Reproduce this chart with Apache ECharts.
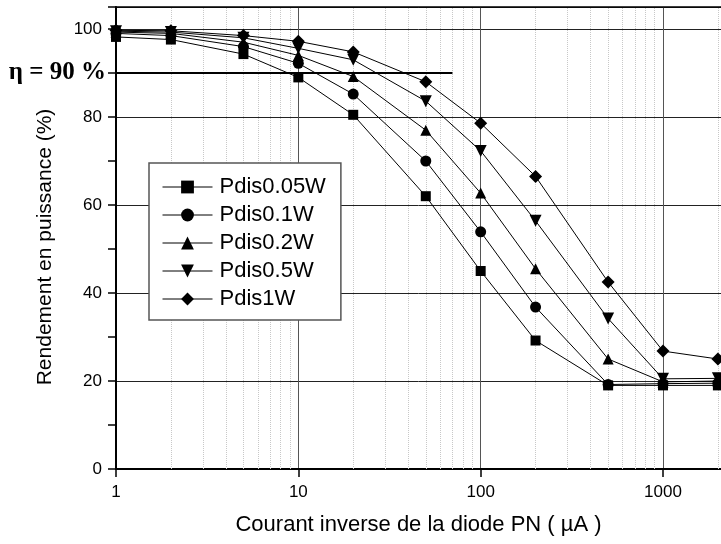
<!DOCTYPE html>
<html>
<head>
<meta charset="utf-8">
<script src="https://cdn.jsdelivr.net/npm/echarts@6/dist/echarts.min.js"></script>
<style>html,body{margin:0;padding:0;background:#fff}#c{width:721px;height:544px}</style>
</head>
<body>
<div id="c"></div>
<script>
var currents = [1, 2, 5, 10, 20, 50, 100, 200, 500, 1000, 2000];
var seriesNames = ['Pdis0.05W', 'Pdis0.1W', 'Pdis0.2W', 'Pdis0.5W', 'Pdis1W'];
var p005 = [98.2, 97.6, 94.3, 89.0, 80.5, 62.0, 45.0, 29.2, 19.0, 19.0, 19.0];
var p01  = [99.0, 98.5, 96.0, 92.2, 85.2, 70.0, 53.9, 36.8, 19.2, 19.4, 19.5];
var p02  = [99.3, 99.0, 97.0, 94.0, 89.2, 77.0, 62.7, 45.5, 25.0, 19.8, 20.0];
var p05  = [99.5, 99.3, 98.0, 95.6, 93.0, 83.6, 72.3, 56.4, 34.2, 20.5, 20.6];
var p1   = [99.7, 99.6, 98.5, 97.2, 94.8, 88.0, 78.6, 66.5, 42.5, 26.8, 25.0];
var xTickLabels = [1, 10, 100, 1000];
var yTicks = [0, 20, 40, 60, 80, 100];
var minorX = [2,3,4,5,6,7,8,9,20,30,40,50,60,70,80,90,200,300,400,500,600,700,800,900,2000];
var etaLevel = 90, etaEnd = 70;

var allVals = [p005, p01, p02, p05, p1];
var symbols = ['rect', 'circle', 'triangle', 'path://M0,0 L10,0 L5,9 Z', 'diamond'];
var sizes = [10, 11, 11, 12, 13];

function pairs(v) { return currents.map(function (x, i) { return [x, v[i]]; }); }

var series = [{
  name: '_grid', type: 'line', data: [], silent: true, z: 1,
  markLine: {
    silent: true, symbol: 'none', animation: false, z: 1,
    label: { show: false },
    lineStyle: { color: '#c8c8c8', type: 'dotted', width: 1 },
    data: minorX.map(function (v) { return [{ coord: [v, 0] }, { coord: [v, 105] }]; })
      .concat(minorX.map(function (v) {
        return [{ coord: [v, 0], lineStyle: { color: '#000', type: 'solid', width: 1 } },
                { coord: [v, -1.4], lineStyle: { color: '#000', type: 'solid', width: 1 } }];
      }))
  }
}];
allVals.forEach(function (v, i) {
  var s = {
    name: seriesNames[i], type: 'line', data: pairs(v), z: 3,
    symbol: symbols[i], symbolSize: sizes[i], showAllSymbol: true,
    itemStyle: { color: '#000' }, lineStyle: { color: '#000', width: 1 },
    animation: false
  };
  if (i === 0) {
    s.markLine = {
      silent: true, symbol: 'none', animation: false, z: 2,
      lineStyle: { color: '#000', type: 'solid', width: 2 },
      label: {
        show: true, position: 'start', formatter: '\u03b7 = 90 %', distance: 10,
        fontFamily: 'Liberation Serif', fontWeight: 'bold', fontSize: 25, color: '#000'
      },
      data: [[{ coord: [1, etaLevel] }, { coord: [etaEnd, etaLevel] }]]
    };
  }
  series.push(s);
});

var chart = echarts.init(document.getElementById('c'));
chart.setOption({
  backgroundColor: '#fff',
  animation: false,
  textStyle: { fontFamily: 'Liberation Sans' },
  grid: { left: 116, top: 7, bottom: 75, right: 0, show: false, containLabel: false },
  legend: {
    data: seriesNames, orient: 'vertical', left: 149, top: 163,
    padding: [13, 15, 10, 13], itemGap: 6, itemWidth: 50, itemHeight: 16,
    backgroundColor: '#fff', borderColor: '#555', borderWidth: 1.5, borderRadius: 0,
    textStyle: { fontSize: 22, color: '#000', fontFamily: 'Liberation Sans', lineHeight: 22, padding: [0, 0, 0, 2] },
    itemStyle: { color: '#000' }, lineStyle: { color: '#000', width: 1 }
  },
  xAxis: [{
    type: 'log', logBase: 10, min: 1, max: 2080,
    name: 'Courant inverse de la diode PN ( \u00b5A )', nameLocation: 'middle', nameGap: 45,
    nameTextStyle: { fontSize: 22, color: '#000' },
    axisLine: { show: true, onZero: false, lineStyle: { color: '#000', width: 2 } },
    axisTick: { show: true, inside: false, length: 8, lineStyle: { color: '#000', width: 1.5 } },
    axisLabel: { fontSize: 17, color: '#000', margin: 15, showMaxLabel: false,
      formatter: function (v) { return xTickLabels.indexOf(Math.round(v)) >= 0 ? String(Math.round(v)) : ''; } },
    splitLine: { show: true, lineStyle: { color: '#555', width: 1 } }
  }, {
    type: 'log', logBase: 10, min: 1, max: 2080, position: 'top',
    axisLine: { show: true, onZero: false, lineStyle: { color: '#000', width: 1.5 } },
    axisTick: { show: false }, axisLabel: { show: false }, splitLine: { show: false }
  }],
  yAxis: {
    type: 'value', min: 0, max: 105, interval: 20,
    name: 'Rendement en puissance (%)', nameLocation: 'middle', nameGap: 60,
    nameTextStyle: { fontSize: 21, color: '#000', padding: [0, 18, 0, 0] },
    axisLine: { show: true, lineStyle: { color: '#000', width: 2 } },
    axisTick: { show: true, inside: false, length: 8, lineStyle: { color: '#000', width: 1.5 } },
    minorTick: { show: true, splitNumber: 2, length: 8, lineStyle: { color: '#000', width: 1.5 } },
    axisLabel: { fontSize: 17, color: '#000', margin: 14,
      formatter: function (v) { return yTicks.indexOf(v) >= 0 ? String(v) : ''; } },
    splitLine: { show: true, lineStyle: { color: '#222', width: 1 } }
  },
  series: series
});
</script>
</body>
</html>
